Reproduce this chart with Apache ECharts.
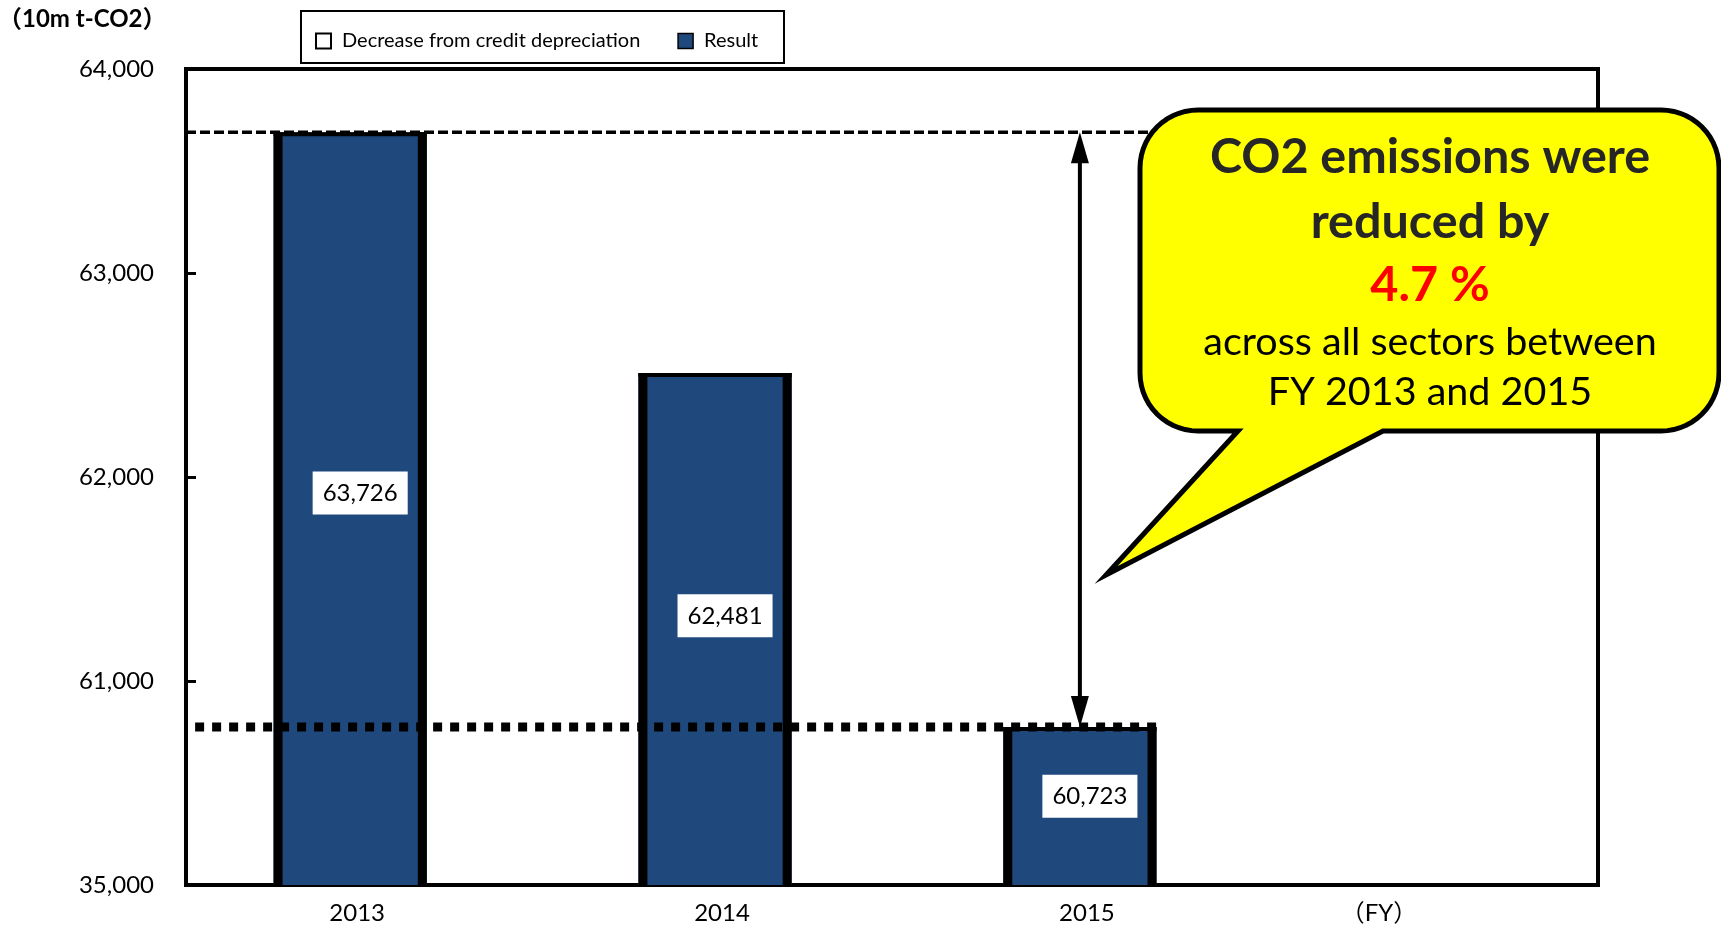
<!DOCTYPE html>
<html><head><meta charset="utf-8">
<script src="https://cdn.jsdelivr.net/npm/echarts@6/dist/echarts.min.js"></script>
<style>html,body{margin:0;padding:0;background:#fff}#c{width:1721px;height:926px}</style>
</head><body><div id="c"></div>
<script>
// ---- data ----
const years = [2013, 2014, 2015];
const resultValues = [63690, 62510, 60775];          // bar tops as drawn
const resultLabels = ['63,726', '62,481', '60,723']; // printed values
const yTicks = [60000, 61000, 62000, 63000, 64000];
const yTickLabels = ['35,000', '61,000', '62,000', '63,000', '64,000'];
const xTickLabels = ['2013', '2014', '2015'];
const xUnitLabel = '（FY）';
const yUnitLabel = '（10m t-CO2）';
const seriesNames = ['Decrease from credit depreciation', 'Result'];
const calloutBold = ['CO2 emissions were', 'reduced by'];
const calloutPercent = '4.7 %';
const calloutBody = ['across all sectors between', 'FY 2013 and 2015'];

// ---- style ----
const FONT = 'Lato, "Noto Sans CJK JP", sans-serif';
const BAR_COLOR = '#1F497D';
const BAR_W = 0.42;
const X_MIN = 2012.55, X_MAX = 2016.42;
const Y_MIN = 60000, Y_MAX = 64000;

const chart = echarts.init(document.getElementById('c'));

function barItem(params, api) {
  const x = api.value(0), v = api.value(1);
  const top = api.coord([x, v]);
  const bot = api.coord([x, Y_MIN]);
  const w = api.size([BAR_W, 0])[0];
  const left = top[0] - w / 2, h = bot[1] - top[1];
  const side = 9, tb = 4;
  return {
    type: 'group',
    children: [
      { type: 'rect', shape: { x: left, y: top[1], width: w, height: h }, style: { fill: BAR_COLOR } },
      { type: 'rect', shape: { x: left, y: top[1], width: side, height: h }, style: { fill: '#000' } },
      { type: 'rect', shape: { x: left + w - side, y: top[1], width: side, height: h }, style: { fill: '#000' } },
      { type: 'rect', shape: { x: left, y: top[1], width: w, height: tb }, style: { fill: '#000' } },
      { type: 'text', x: top[0] + 10, y: top[1] + h * 0.49 - 8,
        style: { text: resultLabels[params.dataIndex], fill: '#000', fontFamily: FONT, fontSize: 24,
                 align: 'center', verticalAlign: 'middle', backgroundColor: '#fff', padding: [10, 10, 9, 10] } }
    ]
  };
}

function arrowItem(params, api) {
  const x = api.value(0);
  const p1 = api.coord([x, api.value(1)]);
  const p2 = api.coord([x, api.value(2)]);
  const hl = 31, hw = 9;
  return {
    type: 'group',
    children: [
      { type: 'line', shape: { x1: p1[0], y1: p1[1] + hl - 2, x2: p2[0], y2: p2[1] - hl + 2 }, style: { stroke: '#000', lineWidth: 4 } },
      { type: 'polygon', shape: { points: [[p1[0], p1[1]], [p1[0] - hw, p1[1] + hl], [p1[0] + hw, p1[1] + hl]] }, style: { fill: '#000' } },
      { type: 'polygon', shape: { points: [[p2[0], p2[1]], [p2[0] - hw, p2[1] - hl], [p2[0] + hw, p2[1] - hl]] }, style: { fill: '#000' } }
    ]
  };
}

// rounded callout outline as polygon points
function calloutPoints(x0, y0, x1, y1, r, tail) {
  const pts = [];
  const arc = (cx, cy, a0, a1) => {
    const n = 14;
    for (let i = 0; i <= n; i++) {
      const a = a0 + (a1 - a0) * i / n;
      pts.push([cx + r * Math.cos(a), cy + r * Math.sin(a)]);
    }
  };
  arc(x0 + r, y0 + r, Math.PI, Math.PI * 1.5);
  arc(x1 - r, y0 + r, Math.PI * 1.5, Math.PI * 2);
  arc(x1 - r, y1 - r, 0, Math.PI * 0.5);
  pts.push([tail[2], y1], [tail[1][0], tail[1][1]], [tail[0], y1]);
  arc(x0 + r, y1 - r, Math.PI * 0.5, Math.PI);
  return pts;
}

const cx = 1430;
const CZ = 100;
const option = {
  backgroundColor: '#fff',
  animation: false,
  grid: { left: 186, right: 123, top: 69, bottom: 41, show: true, borderColor: '#000', borderWidth: 4, backgroundColor: 'transparent' },
  legend: {
    left: 315, top: 31, padding: 0, itemWidth: 15, itemHeight: 15, itemGap: 37,
    textStyle: { fontFamily: FONT, fontSize: 20, color: '#000', padding: [0, 0, 0, 6] },
    selectedMode: false,
    data: [
      { name: seriesNames[0], icon: 'rect', itemStyle: { color: '#fff', borderColor: '#000', borderWidth: 2 } },
      { name: seriesNames[1], icon: 'rect', itemStyle: { color: BAR_COLOR, borderColor: '#000', borderWidth: 1.5 } }
    ]
  },
  xAxis: {
    type: 'value', min: X_MIN, max: X_MAX,
    axisLine: { show: true, lineStyle: { color: '#000', width: 4 } },
    axisTick: { show: false }, splitLine: { show: false },
    axisLabel: {
      customValues: years,
      formatter: v => xTickLabels[years.indexOf(Math.round(v))] || '',
      color: '#000', fontFamily: FONT, fontSize: 24, margin: 16, padding: [0, 0, 0, 14]
    }
  },
  yAxis: {
    type: 'value', min: Y_MIN, max: Y_MAX, interval: 1000,
    axisLine: { show: true, lineStyle: { color: '#000', width: 4 } },
    axisTick: { show: true, inside: true, length: 10, lineStyle: { color: '#000', width: 3 } },
    splitLine: { show: false },
    axisLabel: {
      formatter: v => yTickLabels[yTicks.indexOf(v)],
      color: '#000', fontFamily: FONT, fontSize: 24, margin: 32
    }
  },
  series: [
    { name: seriesNames[0], type: 'line', data: [] },
    { name: seriesNames[1], type: 'custom', renderItem: barItem, z: 2,
      data: years.map((y, i) => [y, resultValues[i]]) },
    { type: 'line', silent: true, symbol: 'none', z: 3,
      data: [[X_MIN, resultValues[0]], [X_MAX, resultValues[0]]],
      lineStyle: { color: '#000', width: 3.5, type: [10, 4] } },
    { type: 'line', silent: true, symbol: 'none', z: 3,
      data: [[X_MIN + 0.025, resultValues[2]], [years[2] + BAR_W / 2, resultValues[2]]],
      lineStyle: { color: '#000', width: 9, type: [9, 8], cap: 'butt' } },
    { type: 'custom', silent: true, renderItem: arrowItem, z: 4,
      data: [[years[2], resultValues[0], resultValues[2]]] }
  ],
  graphic: [
    { type: 'rect', z: -1, shape: { x: 301, y: 11, width: 483, height: 52 }, style: { fill: '#fff', stroke: '#000', lineWidth: 2 } },
    { type: 'text', x: -2, y: 19, style: { text: yUnitLabel, fontFamily: FONT, fontWeight: 'bold', fontSize: 24, fill: '#000', verticalAlign: 'middle' } },
    { type: 'text', x: 1379, y: 913, style: { text: xUnitLabel, fontFamily: FONT, fontSize: 24, fill: '#000', align: 'center', verticalAlign: 'middle' } },
    { type: 'polygon', z: CZ, shape: { points: calloutPoints(1140, 110, 1719, 431, 58, [1238, [1106, 575], 1383]) },
      style: { fill: '#FFFF00', stroke: '#000', lineWidth: 5, lineJoin: 'miter' } },
    { type: 'text', z: CZ + 1, x: cx, y: 157, style: { text: calloutBold[0], fontFamily: FONT, fontWeight: 'bold', fontSize: 48.5, fill: '#262626', align: 'center', verticalAlign: 'middle' } },
    { type: 'text', z: CZ + 1, x: cx, y: 222, style: { text: calloutBold[1], fontFamily: FONT, fontWeight: 'bold', fontSize: 48.5, fill: '#262626', align: 'center', verticalAlign: 'middle' } },
    { type: 'text', z: CZ + 1, x: cx, y: 285, style: { text: calloutPercent, fontFamily: FONT, fontWeight: 'bold', fontSize: 48.5, fill: '#FF0000', align: 'center', verticalAlign: 'middle' } },
    { type: 'text', z: CZ + 1, x: cx, y: 342, style: { text: calloutBody[0], fontFamily: FONT, fontSize: 39.5, fill: '#000', align: 'center', verticalAlign: 'middle' } },
    { type: 'text', z: CZ + 1, x: cx, y: 392, style: { text: calloutBody[1], fontFamily: FONT, fontSize: 39.5, fill: '#000', align: 'center', verticalAlign: 'middle' } }
  ]
};
chart.setOption(option);
</script></body></html>
